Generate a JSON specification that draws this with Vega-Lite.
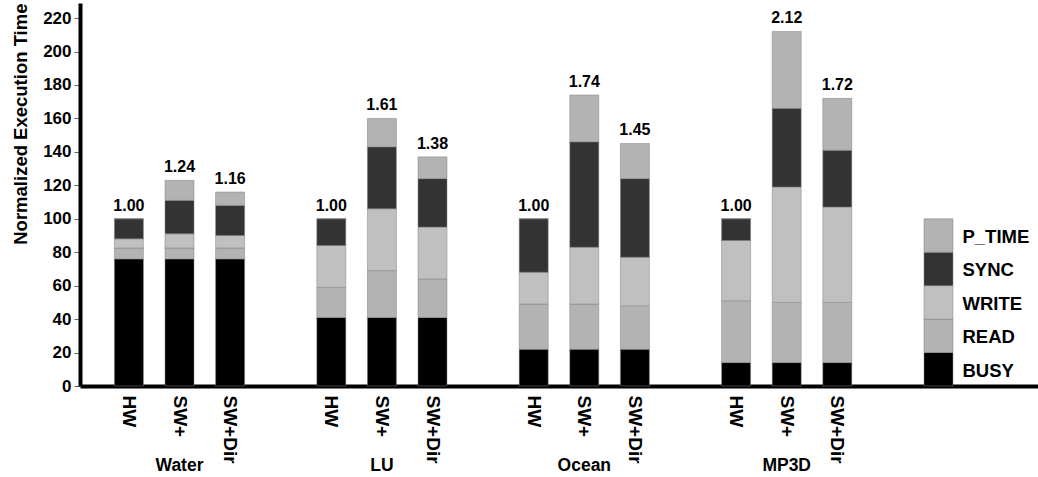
{
  "$schema": "https://vega.github.io/schema/vega-lite/v6.json",
  "width": 958,
  "height": 383,
  "autosize": {"type": "none"},
  "padding": {"left": 80, "top": 3, "right": 0, "bottom": 91},
  "background": "white",
  "config": {
    "view": {"stroke": null},
    "font": "Liberation Sans",
    "text": {"font": "Liberation Sans", "fontWeight": "bold", "color": "black"},
    "axisY": {
      "labelFontSize": 17,
      "labelFontWeight": "bold",
      "labelColor": "black",
      "labelOverlap": false,
      "labelPadding": 3,
      "grid": false,
      "domainColor": "black",
      "domainWidth": 4,
      "tickColor": "#666666",
      "tickSize": 6,
      "titleFontSize": 18.5,
      "titleFontWeight": "bold",
      "titleColor": "black",
      "titleAnchor": "end",
      "titlePadding": 12
    },
    "axisX": {
      "labelAngle": 90,
      "labelAlign": "left",
      "labelBaseline": "middle",
      "labelFontSize": 19,
      "labelFontWeight": "bold",
      "labelColor": "black",
      "labelPadding": 9,
      "labelOverlap": false,
      "labelBound": false,
      "ticks": false,
      "grid": false,
      "domainColor": "black",
      "domainWidth": 4
    }
  },
  "datasets": {
    "segments": [
      {"slot": "Water|HW", "component": "BUSY", "ord": 1, "value": 76},
      {"slot": "Water|HW", "component": "READ", "ord": 2, "value": 6.5},
      {"slot": "Water|HW", "component": "WRITE", "ord": 3, "value": 5.5},
      {"slot": "Water|HW", "component": "SYNC", "ord": 4, "value": 12},
      {"slot": "Water|HW", "component": "P_TIME", "ord": 5, "value": 0},
      {"slot": "Water|SW+", "component": "BUSY", "ord": 1, "value": 76},
      {"slot": "Water|SW+", "component": "READ", "ord": 2, "value": 6.5},
      {"slot": "Water|SW+", "component": "WRITE", "ord": 3, "value": 8.5},
      {"slot": "Water|SW+", "component": "SYNC", "ord": 4, "value": 20},
      {"slot": "Water|SW+", "component": "P_TIME", "ord": 5, "value": 12},
      {"slot": "Water|SW+Dir", "component": "BUSY", "ord": 1, "value": 76},
      {"slot": "Water|SW+Dir", "component": "READ", "ord": 2, "value": 6.5},
      {"slot": "Water|SW+Dir", "component": "WRITE", "ord": 3, "value": 7.5},
      {"slot": "Water|SW+Dir", "component": "SYNC", "ord": 4, "value": 18},
      {"slot": "Water|SW+Dir", "component": "P_TIME", "ord": 5, "value": 8},
      {"slot": "LU|HW", "component": "BUSY", "ord": 1, "value": 41},
      {"slot": "LU|HW", "component": "READ", "ord": 2, "value": 18},
      {"slot": "LU|HW", "component": "WRITE", "ord": 3, "value": 25},
      {"slot": "LU|HW", "component": "SYNC", "ord": 4, "value": 16},
      {"slot": "LU|HW", "component": "P_TIME", "ord": 5, "value": 0},
      {"slot": "LU|SW+", "component": "BUSY", "ord": 1, "value": 41},
      {"slot": "LU|SW+", "component": "READ", "ord": 2, "value": 28},
      {"slot": "LU|SW+", "component": "WRITE", "ord": 3, "value": 37},
      {"slot": "LU|SW+", "component": "SYNC", "ord": 4, "value": 37},
      {"slot": "LU|SW+", "component": "P_TIME", "ord": 5, "value": 17},
      {"slot": "LU|SW+Dir", "component": "BUSY", "ord": 1, "value": 41},
      {"slot": "LU|SW+Dir", "component": "READ", "ord": 2, "value": 23},
      {"slot": "LU|SW+Dir", "component": "WRITE", "ord": 3, "value": 31},
      {"slot": "LU|SW+Dir", "component": "SYNC", "ord": 4, "value": 29},
      {"slot": "LU|SW+Dir", "component": "P_TIME", "ord": 5, "value": 13},
      {"slot": "Ocean|HW", "component": "BUSY", "ord": 1, "value": 22},
      {"slot": "Ocean|HW", "component": "READ", "ord": 2, "value": 27},
      {"slot": "Ocean|HW", "component": "WRITE", "ord": 3, "value": 19},
      {"slot": "Ocean|HW", "component": "SYNC", "ord": 4, "value": 32},
      {"slot": "Ocean|HW", "component": "P_TIME", "ord": 5, "value": 0},
      {"slot": "Ocean|SW+", "component": "BUSY", "ord": 1, "value": 22},
      {"slot": "Ocean|SW+", "component": "READ", "ord": 2, "value": 27},
      {"slot": "Ocean|SW+", "component": "WRITE", "ord": 3, "value": 34},
      {"slot": "Ocean|SW+", "component": "SYNC", "ord": 4, "value": 63},
      {"slot": "Ocean|SW+", "component": "P_TIME", "ord": 5, "value": 28},
      {"slot": "Ocean|SW+Dir", "component": "BUSY", "ord": 1, "value": 22},
      {"slot": "Ocean|SW+Dir", "component": "READ", "ord": 2, "value": 26},
      {"slot": "Ocean|SW+Dir", "component": "WRITE", "ord": 3, "value": 29},
      {"slot": "Ocean|SW+Dir", "component": "SYNC", "ord": 4, "value": 47},
      {"slot": "Ocean|SW+Dir", "component": "P_TIME", "ord": 5, "value": 21},
      {"slot": "MP3D|HW", "component": "BUSY", "ord": 1, "value": 14},
      {"slot": "MP3D|HW", "component": "READ", "ord": 2, "value": 37},
      {"slot": "MP3D|HW", "component": "WRITE", "ord": 3, "value": 36},
      {"slot": "MP3D|HW", "component": "SYNC", "ord": 4, "value": 13},
      {"slot": "MP3D|HW", "component": "P_TIME", "ord": 5, "value": 0},
      {"slot": "MP3D|SW+", "component": "BUSY", "ord": 1, "value": 14},
      {"slot": "MP3D|SW+", "component": "READ", "ord": 2, "value": 36},
      {"slot": "MP3D|SW+", "component": "WRITE", "ord": 3, "value": 69},
      {"slot": "MP3D|SW+", "component": "SYNC", "ord": 4, "value": 47},
      {"slot": "MP3D|SW+", "component": "P_TIME", "ord": 5, "value": 46},
      {"slot": "MP3D|SW+Dir", "component": "BUSY", "ord": 1, "value": 14},
      {"slot": "MP3D|SW+Dir", "component": "READ", "ord": 2, "value": 36},
      {"slot": "MP3D|SW+Dir", "component": "WRITE", "ord": 3, "value": 57},
      {"slot": "MP3D|SW+Dir", "component": "SYNC", "ord": 4, "value": 34},
      {"slot": "MP3D|SW+Dir", "component": "P_TIME", "ord": 5, "value": 31},
      {"slot": "Legend", "component": "BUSY", "ord": 1, "value": 20},
      {"slot": "Legend", "component": "READ", "ord": 2, "value": 20},
      {"slot": "Legend", "component": "WRITE", "ord": 3, "value": 20},
      {"slot": "Legend", "component": "SYNC", "ord": 4, "value": 20},
      {"slot": "Legend", "component": "P_TIME", "ord": 5, "value": 20}
    ],
    "totals": [
      {"slot": "Water|HW", "total": 100, "label": "1.00"},
      {"slot": "Water|SW+", "total": 123, "label": "1.24"},
      {"slot": "Water|SW+Dir", "total": 116, "label": "1.16"},
      {"slot": "LU|HW", "total": 100, "label": "1.00"},
      {"slot": "LU|SW+", "total": 160, "label": "1.61"},
      {"slot": "LU|SW+Dir", "total": 137, "label": "1.38"},
      {"slot": "Ocean|HW", "total": 100, "label": "1.00"},
      {"slot": "Ocean|SW+", "total": 174, "label": "1.74"},
      {"slot": "Ocean|SW+Dir", "total": 145, "label": "1.45"},
      {"slot": "MP3D|HW", "total": 100, "label": "1.00"},
      {"slot": "MP3D|SW+", "total": 212, "label": "2.12"},
      {"slot": "MP3D|SW+Dir", "total": 172, "label": "1.72"}
    ],
    "groups": [
      {"slot": "Water|SW+", "name": "Water"},
      {"slot": "LU|SW+", "name": "LU"},
      {"slot": "Ocean|SW+", "name": "Ocean"},
      {"slot": "MP3D|SW+", "name": "MP3D"}
    ]
  },
  "layer": [
    {
      "data": {"name": "segments"},
      "mark": {"type": "bar", "stroke": "#808080", "strokeWidth": 0.5},
      "encoding": {
        "x": {
          "field": "slot",
          "type": "nominal",
          "sort": null,
          "scale": {
            "domain": ["Water|HW", "Water|SW+", "Water|SW+Dir", "gap1", "LU|HW", "LU|SW+", "LU|SW+Dir", "gap2", "Ocean|HW", "Ocean|SW+", "Ocean|SW+Dir", "gap3", "MP3D|HW", "MP3D|SW+", "MP3D|SW+Dir", "gap4", "Legend", "end"],
            "paddingInner": 0.427,
            "paddingOuter": 0.68
          },
          "axis": {
            "title": null,
            "labelExpr": "split(datum.label, '|').length > 1 ? split(datum.label, '|')[1] : ''"
          }
        },
        "y": {
          "field": "value",
          "type": "quantitative",
          "stack": "zero",
          "scale": {"domain": [0, 229], "nice": false},
          "axis": {
            "title": "Normalized Execution Time",
            "values": [0, 20, 40, 60, 80, 100, 120, 140, 160, 180, 200, 220]
          }
        },
        "color": {
          "field": "component",
          "type": "nominal",
          "scale": {
            "domain": ["BUSY", "READ", "WRITE", "SYNC", "P_TIME"],
            "range": ["#000000", "#b3b3b3", "#c0c0c0", "#333333", "#b3b3b3"]
          },
          "legend": null
        },
        "order": {"field": "ord", "type": "quantitative"}
      }
    },
    {
      "data": {"name": "totals"},
      "mark": {"type": "text", "dy": -8, "baseline": "alphabetic", "fontSize": 16, "fontWeight": "bold"},
      "encoding": {
        "x": {"field": "slot", "type": "nominal", "sort": null},
        "y": {
          "field": "total",
          "type": "quantitative",
          "axis": {
            "title": "Normalized Execution Time",
            "values": [0, 20, 40, 60, 80, 100, 120, 140, 160, 180, 200, 220]
          }
        },
        "text": {"field": "label", "type": "nominal"}
      }
    },
    {
      "data": {"name": "groups"},
      "mark": {"type": "text", "dy": 85, "baseline": "alphabetic", "fontSize": 17.5, "fontWeight": "bold"},
      "encoding": {
        "x": {"field": "slot", "type": "nominal", "sort": null},
        "y": {
          "datum": 0,
          "type": "quantitative",
          "axis": {
            "title": "Normalized Execution Time",
            "values": [0, 20, 40, 60, 80, 100, 120, 140, 160, 180, 200, 220]
          }
        },
        "text": {"field": "name", "type": "nominal"}
      }
    },
    {
      "data": {"name": "segments"},
      "transform": [{"filter": "datum.slot === 'Legend'"}],
      "mark": {"type": "text", "align": "left", "baseline": "middle", "dx": 24, "dy": 18, "fontSize": 18.5, "fontWeight": "bold"},
      "encoding": {
        "x": {"field": "slot", "type": "nominal", "sort": null},
        "y": {
          "field": "value",
          "type": "quantitative",
          "stack": "zero",
          "axis": {
            "title": "Normalized Execution Time",
            "values": [0, 20, 40, 60, 80, 100, 120, 140, 160, 180, 200, 220]
          }
        },
        "detail": {"field": "component", "type": "nominal"},
        "order": {"field": "ord", "type": "quantitative"},
        "text": {"field": "component", "type": "nominal"}
      }
    }
  ]
}
